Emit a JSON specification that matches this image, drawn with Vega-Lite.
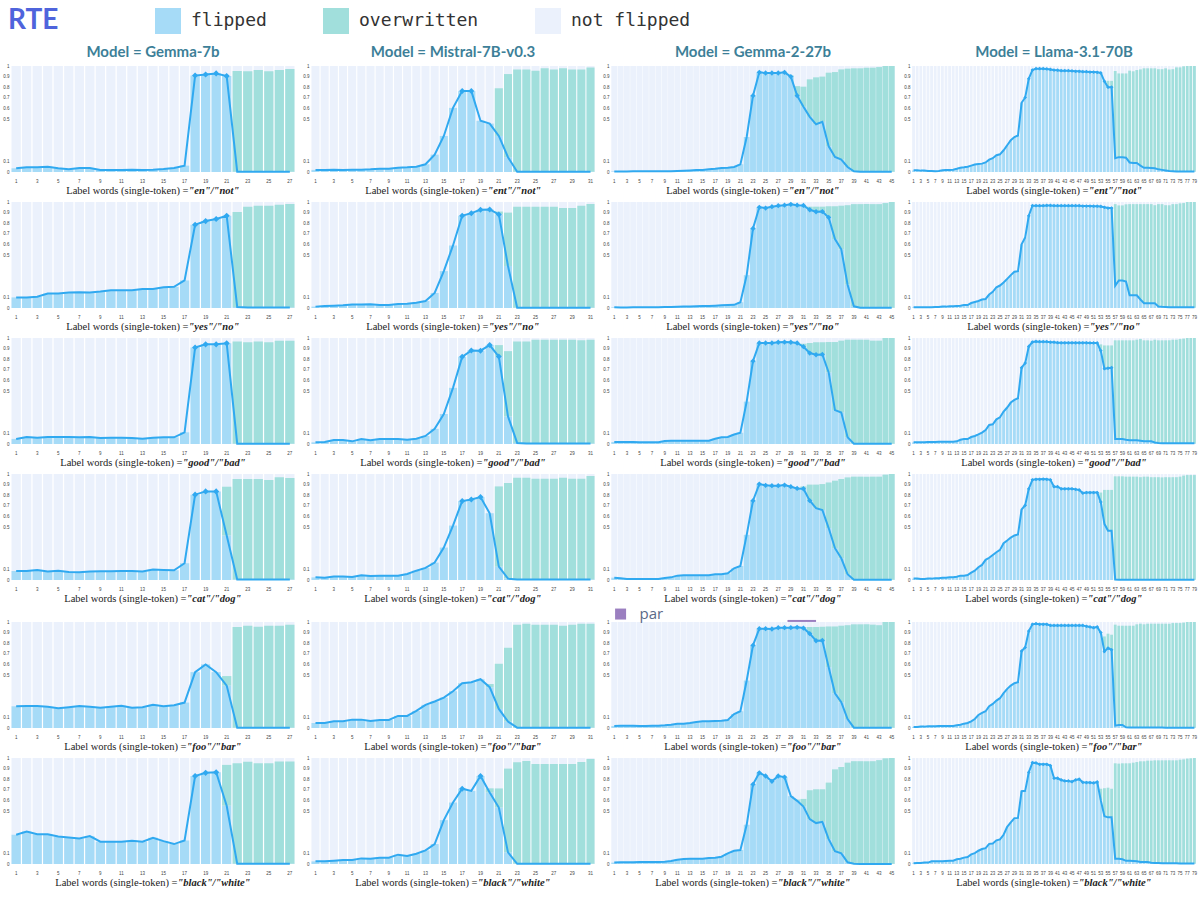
{
"$schema":"https://vega.github.io/schema/vega-lite/v6.json",
"padding":{"left":1,"top":8,"right":1,"bottom":0},
"background":"white",
"spacing":3,
"config":{
"view":{"stroke":null},
"scale":{"bandPaddingInner":0.12,"bandPaddingOuter":0.05},
"axisX":{"ticks":false,"domain":false,"grid":false,"labelAngle":0,"labelFontSize":4.5,"labelColor":"#444444","labelPadding":6,"labelOverlap":false,"titleFont":"Liberation Serif","titleFontSize":10.5,"titleColor":"#222222","titleY":21,"titleBaseline":"alphabetic","titleFontWeight":"normal"},
"axisY":{"ticks":false,"domain":false,"grid":false,"labelFontSize":4.5,"labelColor":"#444444","labelPadding":2,"minExtent":10,"maxExtent":10},
"title":{"font":"Lato","fontSize":15,"fontWeight":"bold","color":"#3d7f98","offset":3}
},
"datasets":{
"g7_en":[{"l":1,"f":0.035,"o":0},{"l":2,"f":0.045,"o":0},{"l":3,"f":0.045,"o":0},{"l":4,"f":0.05,"o":0},{"l":5,"f":0.035,"o":0},{"l":6,"f":0.025,"o":0},{"l":7,"f":0.038,"o":0},{"l":8,"f":0.038,"o":0},{"l":9,"f":0.02,"o":0},{"l":10,"f":0.02,"o":0},{"l":11,"f":0.02,"o":0},{"l":12,"f":0.022,"o":0},{"l":13,"f":0.02,"o":0},{"l":14,"f":0.022,"o":0},{"l":15,"f":0.028,"o":0},{"l":16,"f":0.038,"o":0},{"l":17,"f":0.06,"o":0},{"l":18,"f":0.91,"o":0},{"l":19,"f":0.92,"o":0},{"l":20,"f":0.93,"o":0},{"l":21,"f":0.905,"o":0},{"l":22,"f":0.003,"o":0.95},{"l":23,"f":0.003,"o":0.947},{"l":24,"f":0.003,"o":0.959},{"l":25,"f":0.003,"o":0.947},{"l":26,"f":0.003,"o":0.959},{"l":27,"f":0.003,"o":0.969}],
"g7_yes":[{"l":1,"f":0.1,"o":0},{"l":2,"f":0.1,"o":0},{"l":3,"f":0.107,"o":0},{"l":4,"f":0.136,"o":0},{"l":5,"f":0.136,"o":0},{"l":6,"f":0.146,"o":0},{"l":7,"f":0.149,"o":0},{"l":8,"f":0.146,"o":0},{"l":9,"f":0.155,"o":0},{"l":10,"f":0.168,"o":0},{"l":11,"f":0.168,"o":0},{"l":12,"f":0.168,"o":0},{"l":13,"f":0.18,"o":0},{"l":14,"f":0.18,"o":0},{"l":15,"f":0.196,"o":0},{"l":16,"f":0.2,"o":0},{"l":17,"f":0.26,"o":0},{"l":18,"f":0.785,"o":0},{"l":19,"f":0.82,"o":0},{"l":20,"f":0.84,"o":0},{"l":21,"f":0.87,"o":0},{"l":22,"f":0.01,"o":0.895},{"l":23,"f":0.005,"o":0.951},{"l":24,"f":0.005,"o":0.96},{"l":25,"f":0.005,"o":0.96},{"l":26,"f":0.005,"o":0.97},{"l":27,"f":0.005,"o":0.975}],
"g7_good":[{"l":1,"f":0.048,"o":0},{"l":2,"f":0.067,"o":0},{"l":3,"f":0.06,"o":0},{"l":4,"f":0.067,"o":0},{"l":5,"f":0.067,"o":0},{"l":6,"f":0.067,"o":0},{"l":7,"f":0.063,"o":0},{"l":8,"f":0.067,"o":0},{"l":9,"f":0.057,"o":0},{"l":10,"f":0.06,"o":0},{"l":11,"f":0.06,"o":0},{"l":12,"f":0.057,"o":0},{"l":13,"f":0.05,"o":0},{"l":14,"f":0.06,"o":0},{"l":15,"f":0.063,"o":0},{"l":16,"f":0.063,"o":0},{"l":17,"f":0.11,"o":0},{"l":18,"f":0.91,"o":0},{"l":19,"f":0.94,"o":0},{"l":20,"f":0.94,"o":0},{"l":21,"f":0.95,"o":0},{"l":22,"f":0.003,"o":0.965},{"l":23,"f":0.003,"o":0.957},{"l":24,"f":0.003,"o":0.965},{"l":25,"f":0.003,"o":0.957},{"l":26,"f":0.003,"o":0.972},{"l":27,"f":0.003,"o":0.972}],
"g7_cat":[{"l":1,"f":0.085,"o":0},{"l":2,"f":0.085,"o":0},{"l":3,"f":0.095,"o":0},{"l":4,"f":0.08,"o":0},{"l":5,"f":0.088,"o":0},{"l":6,"f":0.076,"o":0},{"l":7,"f":0.073,"o":0},{"l":8,"f":0.08,"o":0},{"l":9,"f":0.082,"o":0},{"l":10,"f":0.082,"o":0},{"l":11,"f":0.085,"o":0},{"l":12,"f":0.085,"o":0},{"l":13,"f":0.08,"o":0},{"l":14,"f":0.098,"o":0},{"l":15,"f":0.095,"o":0},{"l":16,"f":0.092,"o":0},{"l":17,"f":0.158,"o":0},{"l":18,"f":0.805,"o":0},{"l":19,"f":0.836,"o":0},{"l":20,"f":0.836,"o":0},{"l":21,"f":0.42,"o":0.46},{"l":22,"f":0.005,"o":0.948},{"l":23,"f":0.005,"o":0.948},{"l":24,"f":0.005,"o":0.948},{"l":25,"f":0.005,"o":0.938},{"l":26,"f":0.005,"o":0.965},{"l":27,"f":0.005,"o":0.957}],
"g7_foo":[{"l":1,"f":0.205,"o":0},{"l":2,"f":0.208,"o":0},{"l":3,"f":0.208,"o":0},{"l":4,"f":0.2,"o":0},{"l":5,"f":0.186,"o":0},{"l":6,"f":0.196,"o":0},{"l":7,"f":0.208,"o":0},{"l":8,"f":0.2,"o":0},{"l":9,"f":0.19,"o":0},{"l":10,"f":0.2,"o":0},{"l":11,"f":0.21,"o":0},{"l":12,"f":0.192,"o":0},{"l":13,"f":0.196,"o":0},{"l":14,"f":0.22,"o":0},{"l":15,"f":0.205,"o":0},{"l":16,"f":0.215,"o":0},{"l":17,"f":0.24,"o":0},{"l":18,"f":0.527,"o":0},{"l":19,"f":0.6,"o":0},{"l":20,"f":0.527,"o":0},{"l":21,"f":0.4,"o":0.09},{"l":22,"f":0.003,"o":0.95},{"l":23,"f":0.003,"o":0.962},{"l":24,"f":0.003,"o":0.952},{"l":25,"f":0.003,"o":0.962},{"l":26,"f":0.003,"o":0.962},{"l":27,"f":0.003,"o":0.972}],
"g7_black":[{"l":1,"f":0.276,"o":0},{"l":2,"f":0.307,"o":0},{"l":3,"f":0.28,"o":0},{"l":4,"f":0.28,"o":0},{"l":5,"f":0.26,"o":0},{"l":6,"f":0.25,"o":0},{"l":7,"f":0.24,"o":0},{"l":8,"f":0.263,"o":0},{"l":9,"f":0.21,"o":0},{"l":10,"f":0.21,"o":0},{"l":11,"f":0.21,"o":0},{"l":12,"f":0.22,"o":0},{"l":13,"f":0.21,"o":0},{"l":14,"f":0.248,"o":0},{"l":15,"f":0.216,"o":0},{"l":16,"f":0.188,"o":0},{"l":17,"f":0.222,"o":0},{"l":18,"f":0.83,"o":0},{"l":19,"f":0.86,"o":0},{"l":20,"f":0.865,"o":0},{"l":21,"f":0.55,"o":0.385},{"l":22,"f":0.003,"o":0.947},{"l":23,"f":0.003,"o":0.962},{"l":24,"f":0.003,"o":0.947},{"l":25,"f":0.003,"o":0.947},{"l":26,"f":0.003,"o":0.965},{"l":27,"f":0.003,"o":0.965}],
"mi_ent":[{"l":1,"f":0.02,"o":0},{"l":2,"f":0.02,"o":0},{"l":3,"f":0.022,"o":0},{"l":4,"f":0.02,"o":0},{"l":5,"f":0.022,"o":0},{"l":6,"f":0.022,"o":0},{"l":7,"f":0.025,"o":0},{"l":8,"f":0.03,"o":0},{"l":9,"f":0.03,"o":0},{"l":10,"f":0.04,"o":0},{"l":11,"f":0.044,"o":0},{"l":12,"f":0.05,"o":0},{"l":13,"f":0.073,"o":0},{"l":14,"f":0.164,"o":0},{"l":15,"f":0.34,"o":0},{"l":16,"f":0.605,"o":0},{"l":17,"f":0.763,"o":0},{"l":18,"f":0.763,"o":0},{"l":19,"f":0.483,"o":0},{"l":20,"f":0.457,"o":0},{"l":21,"f":0.34,"o":0.45},{"l":22,"f":0.14,"o":0.784},{"l":23,"f":0.003,"o":0.965},{"l":24,"f":0.003,"o":0.965},{"l":25,"f":0.003,"o":0.953},{"l":26,"f":0.003,"o":0.975},{"l":27,"f":0.003,"o":0.965},{"l":28,"f":0.003,"o":0.975},{"l":29,"f":0.003,"o":0.965},{"l":30,"f":0.003,"o":0.965},{"l":31,"f":0.003,"o":0.984}],
"mi_yes":[{"l":1,"f":0.013,"o":0},{"l":2,"f":0.02,"o":0},{"l":3,"f":0.022,"o":0},{"l":4,"f":0.025,"o":0},{"l":5,"f":0.032,"o":0},{"l":6,"f":0.032,"o":0},{"l":7,"f":0.035,"o":0},{"l":8,"f":0.028,"o":0},{"l":9,"f":0.028,"o":0},{"l":10,"f":0.038,"o":0},{"l":11,"f":0.041,"o":0},{"l":12,"f":0.05,"o":0},{"l":13,"f":0.066,"o":0},{"l":14,"f":0.142,"o":0},{"l":15,"f":0.348,"o":0},{"l":16,"f":0.59,"o":0},{"l":17,"f":0.87,"o":0},{"l":18,"f":0.895,"o":0},{"l":19,"f":0.927,"o":0},{"l":20,"f":0.93,"o":0},{"l":21,"f":0.883,"o":0.027},{"l":22,"f":0.396,"o":0.504},{"l":23,"f":0.003,"o":0.953},{"l":24,"f":0.003,"o":0.953},{"l":25,"f":0.003,"o":0.953},{"l":26,"f":0.003,"o":0.953},{"l":27,"f":0.003,"o":0.953},{"l":28,"f":0.003,"o":0.94},{"l":29,"f":0.003,"o":0.94},{"l":30,"f":0.003,"o":0.962},{"l":31,"f":0.003,"o":0.977}],
"mi_good":[{"l":1,"f":0.016,"o":0},{"l":2,"f":0.02,"o":0},{"l":3,"f":0.038,"o":0},{"l":4,"f":0.038,"o":0},{"l":5,"f":0.025,"o":0},{"l":6,"f":0.048,"o":0},{"l":7,"f":0.035,"o":0},{"l":8,"f":0.048,"o":0},{"l":9,"f":0.048,"o":0},{"l":10,"f":0.048,"o":0},{"l":11,"f":0.041,"o":0},{"l":12,"f":0.05,"o":0},{"l":13,"f":0.076,"o":0},{"l":14,"f":0.143,"o":0},{"l":15,"f":0.283,"o":0},{"l":16,"f":0.53,"o":0},{"l":17,"f":0.822,"o":0},{"l":18,"f":0.883,"o":0},{"l":19,"f":0.88,"o":0},{"l":20,"f":0.933,"o":0},{"l":21,"f":0.825,"o":0.108},{"l":22,"f":0.26,"o":0.616},{"l":23,"f":0.01,"o":0.958},{"l":24,"f":0.005,"o":0.963},{"l":25,"f":0.005,"o":0.979},{"l":26,"f":0.005,"o":0.979},{"l":27,"f":0.005,"o":0.979},{"l":28,"f":0.005,"o":0.979},{"l":29,"f":0.005,"o":0.979},{"l":30,"f":0.005,"o":0.973},{"l":31,"f":0.005,"o":0.979}],
"mi_cat":[{"l":1,"f":0.025,"o":0},{"l":2,"f":0.022,"o":0},{"l":3,"f":0.032,"o":0},{"l":4,"f":0.032,"o":0},{"l":5,"f":0.028,"o":0},{"l":6,"f":0.044,"o":0},{"l":7,"f":0.038,"o":0},{"l":8,"f":0.041,"o":0},{"l":9,"f":0.041,"o":0},{"l":10,"f":0.041,"o":0},{"l":11,"f":0.057,"o":0},{"l":12,"f":0.088,"o":0},{"l":13,"f":0.114,"o":0},{"l":14,"f":0.164,"o":0},{"l":15,"f":0.306,"o":0},{"l":16,"f":0.514,"o":0},{"l":17,"f":0.745,"o":0},{"l":18,"f":0.76,"o":0},{"l":19,"f":0.782,"o":0},{"l":20,"f":0.63,"o":0},{"l":21,"f":0.126,"o":0.757},{"l":22,"f":0.013,"o":0.902},{"l":23,"f":0.005,"o":0.96},{"l":24,"f":0.005,"o":0.96},{"l":25,"f":0.005,"o":0.951},{"l":26,"f":0.005,"o":0.951},{"l":27,"f":0.005,"o":0.951},{"l":28,"f":0.005,"o":0.96},{"l":29,"f":0.005,"o":0.951},{"l":30,"f":0.005,"o":0.951},{"l":31,"f":0.005,"o":0.975}],
"mi_foo":[{"l":1,"f":0.047,"o":0},{"l":2,"f":0.047,"o":0},{"l":3,"f":0.063,"o":0},{"l":4,"f":0.063,"o":0},{"l":5,"f":0.079,"o":0},{"l":6,"f":0.079,"o":0},{"l":7,"f":0.066,"o":0},{"l":8,"f":0.076,"o":0},{"l":9,"f":0.076,"o":0},{"l":10,"f":0.114,"o":0},{"l":11,"f":0.114,"o":0},{"l":12,"f":0.161,"o":0},{"l":13,"f":0.218,"o":0},{"l":14,"f":0.25,"o":0},{"l":15,"f":0.287,"o":0},{"l":16,"f":0.347,"o":0},{"l":17,"f":0.423,"o":0},{"l":18,"f":0.432,"o":0},{"l":19,"f":0.46,"o":0},{"l":20,"f":0.385,"o":0.03},{"l":21,"f":0.18,"o":0.426},{"l":22,"f":0.06,"o":0.697},{"l":23,"f":0.003,"o":0.972},{"l":24,"f":0.002,"o":0.982},{"l":25,"f":0.002,"o":0.973},{"l":26,"f":0.002,"o":0.973},{"l":27,"f":0.002,"o":0.973},{"l":28,"f":0.002,"o":0.963},{"l":29,"f":0.002,"o":0.973},{"l":30,"f":0.002,"o":0.982},{"l":31,"f":0.002,"o":0.982}],
"mi_black":[{"l":1,"f":0.025,"o":0},{"l":2,"f":0.025,"o":0},{"l":3,"f":0.031,"o":0},{"l":4,"f":0.038,"o":0},{"l":5,"f":0.038,"o":0},{"l":6,"f":0.053,"o":0},{"l":7,"f":0.05,"o":0},{"l":8,"f":0.06,"o":0},{"l":9,"f":0.06,"o":0},{"l":10,"f":0.088,"o":0},{"l":11,"f":0.075,"o":0},{"l":12,"f":0.097,"o":0},{"l":13,"f":0.128,"o":0},{"l":14,"f":0.188,"o":0},{"l":15,"f":0.414,"o":0},{"l":16,"f":0.58,"o":0},{"l":17,"f":0.71,"o":0},{"l":18,"f":0.69,"o":0},{"l":19,"f":0.83,"o":0},{"l":20,"f":0.674,"o":0.04},{"l":21,"f":0.533,"o":0.18},{"l":22,"f":0.11,"o":0.79},{"l":23,"f":0.002,"o":0.958},{"l":24,"f":0.002,"o":0.97},{"l":25,"f":0.002,"o":0.942},{"l":26,"f":0.002,"o":0.942},{"l":27,"f":0.002,"o":0.942},{"l":28,"f":0.002,"o":0.942},{"l":29,"f":0.002,"o":0.942},{"l":30,"f":0.002,"o":0.96},{"l":31,"f":0.002,"o":0.988}],
"g2_en":[{"l":1,"f":0.005,"o":0},{"l":2,"f":0.005,"o":0},{"l":3,"f":0.005,"o":0},{"l":4,"f":0.006,"o":0},{"l":5,"f":0.007,"o":0},{"l":6,"f":0.008,"o":0},{"l":7,"f":0.008,"o":0},{"l":8,"f":0.008,"o":0},{"l":9,"f":0.008,"o":0},{"l":10,"f":0.008,"o":0},{"l":11,"f":0.01,"o":0},{"l":12,"f":0.012,"o":0},{"l":13,"f":0.015,"o":0},{"l":14,"f":0.018,"o":0},{"l":15,"f":0.02,"o":0},{"l":16,"f":0.025,"o":0},{"l":17,"f":0.03,"o":0},{"l":18,"f":0.038,"o":0},{"l":19,"f":0.04,"o":0},{"l":20,"f":0.047,"o":0},{"l":21,"f":0.072,"o":0},{"l":22,"f":0.33,"o":0},{"l":23,"f":0.72,"o":0},{"l":24,"f":0.94,"o":0},{"l":25,"f":0.934,"o":0},{"l":26,"f":0.934,"o":0},{"l":27,"f":0.934,"o":0},{"l":28,"f":0.94,"o":0},{"l":29,"f":0.9,"o":0.01},{"l":30,"f":0.72,"o":0.09},{"l":31,"f":0.615,"o":0.19},{"l":32,"f":0.52,"o":0.354},{"l":33,"f":0.45,"o":0.443},{"l":34,"f":0.473,"o":0.427},{"l":35,"f":0.243,"o":0.694},{"l":36,"f":0.142,"o":0.801},{"l":37,"f":0.117,"o":0.851},{"l":38,"f":0.047,"o":0.928},{"l":39,"f":0.006,"o":0.972},{"l":40,"f":0.002,"o":0.976},{"l":41,"f":0.002,"o":0.982},{"l":42,"f":0.002,"o":0.982},{"l":43,"f":0.002,"o":0.988},{"l":44,"f":0.002,"o":0.998},{"l":45,"f":0.002,"o":0.998}],
"g2_yes":[{"l":1,"f":0.006,"o":0},{"l":2,"f":0.005,"o":0},{"l":3,"f":0.005,"o":0},{"l":4,"f":0.006,"o":0},{"l":5,"f":0.006,"o":0},{"l":6,"f":0.007,"o":0},{"l":7,"f":0.008,"o":0},{"l":8,"f":0.008,"o":0},{"l":9,"f":0.009,"o":0},{"l":10,"f":0.01,"o":0},{"l":11,"f":0.012,"o":0},{"l":12,"f":0.014,"o":0},{"l":13,"f":0.015,"o":0},{"l":14,"f":0.016,"o":0},{"l":15,"f":0.018,"o":0},{"l":16,"f":0.02,"o":0},{"l":17,"f":0.022,"o":0},{"l":18,"f":0.025,"o":0},{"l":19,"f":0.028,"o":0},{"l":20,"f":0.03,"o":0},{"l":21,"f":0.054,"o":0},{"l":22,"f":0.31,"o":0},{"l":23,"f":0.75,"o":0},{"l":24,"f":0.95,"o":0},{"l":25,"f":0.943,"o":0},{"l":26,"f":0.956,"o":0},{"l":27,"f":0.965,"o":0},{"l":28,"f":0.97,"o":0},{"l":29,"f":0.978,"o":0},{"l":30,"f":0.97,"o":0},{"l":31,"f":0.968,"o":0},{"l":32,"f":0.927,"o":0.029},{"l":33,"f":0.908,"o":0.048},{"l":34,"f":0.91,"o":0.046},{"l":35,"f":0.854,"o":0.106},{"l":36,"f":0.65,"o":0.31},{"l":37,"f":0.554,"o":0.411},{"l":38,"f":0.22,"o":0.75},{"l":39,"f":0.016,"o":0.964},{"l":40,"f":0.003,"o":0.977},{"l":41,"f":0.002,"o":0.978},{"l":42,"f":0.002,"o":0.978},{"l":43,"f":0.002,"o":0.978},{"l":44,"f":0.002,"o":0.988},{"l":45,"f":0.002,"o":0.998}],
"g2_good":[{"l":1,"f":0.019,"o":0},{"l":2,"f":0.019,"o":0},{"l":3,"f":0.018,"o":0},{"l":4,"f":0.018,"o":0},{"l":5,"f":0.017,"o":0},{"l":6,"f":0.016,"o":0},{"l":7,"f":0.016,"o":0},{"l":8,"f":0.016,"o":0},{"l":9,"f":0.028,"o":0},{"l":10,"f":0.03,"o":0},{"l":11,"f":0.03,"o":0},{"l":12,"f":0.03,"o":0},{"l":13,"f":0.03,"o":0},{"l":14,"f":0.03,"o":0},{"l":15,"f":0.03,"o":0},{"l":16,"f":0.03,"o":0},{"l":17,"f":0.05,"o":0},{"l":18,"f":0.063,"o":0},{"l":19,"f":0.066,"o":0},{"l":20,"f":0.09,"o":0},{"l":21,"f":0.107,"o":0},{"l":22,"f":0.4,"o":0},{"l":23,"f":0.782,"o":0},{"l":24,"f":0.953,"o":0},{"l":25,"f":0.953,"o":0},{"l":26,"f":0.953,"o":0},{"l":27,"f":0.96,"o":0},{"l":28,"f":0.962,"o":0},{"l":29,"f":0.96,"o":0},{"l":30,"f":0.953,"o":0},{"l":31,"f":0.918,"o":0.028},{"l":32,"f":0.858,"o":0.095},{"l":33,"f":0.842,"o":0.118},{"l":34,"f":0.845,"o":0.115},{"l":35,"f":0.675,"o":0.287},{"l":36,"f":0.32,"o":0.642},{"l":37,"f":0.297,"o":0.678},{"l":38,"f":0.063,"o":0.921},{"l":39,"f":0.003,"o":0.981},{"l":40,"f":0.002,"o":0.982},{"l":41,"f":0.002,"o":0.982},{"l":42,"f":0.002,"o":0.973},{"l":43,"f":0.002,"o":0.973},{"l":44,"f":0.002,"o":0.998},{"l":45,"f":0.002,"o":0.998}],
"g2_cat":[{"l":1,"f":0.022,"o":0},{"l":2,"f":0.016,"o":0},{"l":3,"f":0.01,"o":0},{"l":4,"f":0.01,"o":0},{"l":5,"f":0.01,"o":0},{"l":6,"f":0.01,"o":0},{"l":7,"f":0.01,"o":0},{"l":8,"f":0.01,"o":0},{"l":9,"f":0.019,"o":0},{"l":10,"f":0.025,"o":0},{"l":11,"f":0.041,"o":0},{"l":12,"f":0.044,"o":0},{"l":13,"f":0.044,"o":0},{"l":14,"f":0.044,"o":0},{"l":15,"f":0.044,"o":0},{"l":16,"f":0.044,"o":0},{"l":17,"f":0.054,"o":0},{"l":18,"f":0.054,"o":0},{"l":19,"f":0.063,"o":0},{"l":20,"f":0.11,"o":0},{"l":21,"f":0.132,"o":0},{"l":22,"f":0.426,"o":0},{"l":23,"f":0.748,"o":0},{"l":24,"f":0.905,"o":0},{"l":25,"f":0.893,"o":0},{"l":26,"f":0.89,"o":0},{"l":27,"f":0.89,"o":0},{"l":28,"f":0.896,"o":0},{"l":29,"f":0.88,"o":0},{"l":30,"f":0.864,"o":0.006},{"l":31,"f":0.861,"o":0.022},{"l":32,"f":0.748,"o":0.152},{"l":33,"f":0.678,"o":0.222},{"l":34,"f":0.66,"o":0.245},{"l":35,"f":0.49,"o":0.43},{"l":36,"f":0.3,"o":0.637},{"l":37,"f":0.205,"o":0.748},{"l":38,"f":0.054,"o":0.914},{"l":39,"f":0.003,"o":0.972},{"l":40,"f":0.002,"o":0.973},{"l":41,"f":0.002,"o":0.973},{"l":42,"f":0.002,"o":0.973},{"l":43,"f":0.002,"o":0.973},{"l":44,"f":0.002,"o":0.992},{"l":45,"f":0.002,"o":0.998}],
"g2_foo":[{"l":1,"f":0.019,"o":0},{"l":2,"f":0.022,"o":0},{"l":3,"f":0.022,"o":0},{"l":4,"f":0.022,"o":0},{"l":5,"f":0.02,"o":0},{"l":6,"f":0.02,"o":0},{"l":7,"f":0.021,"o":0},{"l":8,"f":0.022,"o":0},{"l":9,"f":0.025,"o":0},{"l":10,"f":0.03,"o":0},{"l":11,"f":0.041,"o":0},{"l":12,"f":0.041,"o":0},{"l":13,"f":0.047,"o":0},{"l":14,"f":0.057,"o":0},{"l":15,"f":0.063,"o":0},{"l":16,"f":0.063,"o":0},{"l":17,"f":0.066,"o":0},{"l":18,"f":0.069,"o":0},{"l":19,"f":0.076,"o":0},{"l":20,"f":0.132,"o":0},{"l":21,"f":0.158,"o":0},{"l":22,"f":0.448,"o":0},{"l":23,"f":0.78,"o":0},{"l":24,"f":0.937,"o":0},{"l":25,"f":0.937,"o":0},{"l":26,"f":0.934,"o":0},{"l":27,"f":0.946,"o":0},{"l":28,"f":0.946,"o":0},{"l":29,"f":0.946,"o":0},{"l":30,"f":0.95,"o":0},{"l":31,"f":0.943,"o":0.007},{"l":32,"f":0.89,"o":0.063},{"l":33,"f":0.823,"o":0.13},{"l":34,"f":0.826,"o":0.129},{"l":35,"f":0.574,"o":0.384},{"l":36,"f":0.328,"o":0.63},{"l":37,"f":0.243,"o":0.722},{"l":38,"f":0.085,"o":0.885},{"l":39,"f":0.003,"o":0.975},{"l":40,"f":0.002,"o":0.976},{"l":41,"f":0.002,"o":0.976},{"l":42,"f":0.002,"o":0.973},{"l":43,"f":0.002,"o":0.968},{"l":44,"f":0.002,"o":0.998},{"l":45,"f":0.002,"o":0.998}],
"g2_black":[{"l":1,"f":0.013,"o":0},{"l":2,"f":0.016,"o":0},{"l":3,"f":0.016,"o":0},{"l":4,"f":0.016,"o":0},{"l":5,"f":0.019,"o":0},{"l":6,"f":0.019,"o":0},{"l":7,"f":0.019,"o":0},{"l":8,"f":0.019,"o":0},{"l":9,"f":0.022,"o":0},{"l":10,"f":0.028,"o":0},{"l":11,"f":0.041,"o":0},{"l":12,"f":0.047,"o":0},{"l":13,"f":0.05,"o":0},{"l":14,"f":0.05,"o":0},{"l":15,"f":0.05,"o":0},{"l":16,"f":0.056,"o":0},{"l":17,"f":0.06,"o":0},{"l":18,"f":0.069,"o":0},{"l":19,"f":0.1,"o":0},{"l":20,"f":0.125,"o":0},{"l":21,"f":0.132,"o":0},{"l":22,"f":0.37,"o":0},{"l":23,"f":0.752,"o":0},{"l":24,"f":0.86,"o":0},{"l":25,"f":0.83,"o":0},{"l":26,"f":0.78,"o":0},{"l":27,"f":0.83,"o":0},{"l":28,"f":0.82,"o":0},{"l":29,"f":0.64,"o":0},{"l":30,"f":0.596,"o":0.012},{"l":31,"f":0.542,"o":0.072},{"l":32,"f":0.423,"o":0.273},{"l":33,"f":0.386,"o":0.319},{"l":34,"f":0.398,"o":0.307},{"l":35,"f":0.235,"o":0.533},{"l":36,"f":0.12,"o":0.773},{"l":37,"f":0.1,"o":0.815},{"l":38,"f":0.016,"o":0.94},{"l":39,"f":0.002,"o":0.968},{"l":40,"f":0.001,"o":0.969},{"l":41,"f":0.001,"o":0.969},{"l":42,"f":0.001,"o":0.969},{"l":43,"f":0.001,"o":0.979},{"l":44,"f":0.001,"o":0.996},{"l":45,"f":0.001,"o":0.999}],
"ll_ent":[{"l":1,"f":0.016,"o":0},{"l":2,"f":0.016,"o":0},{"l":3,"f":0.013,"o":0},{"l":4,"f":0.013,"o":0},{"l":5,"f":0.01,"o":0},{"l":6,"f":0.01,"o":0},{"l":7,"f":0.006,"o":0},{"l":8,"f":0.01,"o":0},{"l":9,"f":0.016,"o":0},{"l":10,"f":0.019,"o":0},{"l":11,"f":0.019,"o":0},{"l":12,"f":0.022,"o":0},{"l":13,"f":0.03,"o":0},{"l":14,"f":0.04,"o":0},{"l":15,"f":0.044,"o":0},{"l":16,"f":0.05,"o":0},{"l":17,"f":0.06,"o":0},{"l":18,"f":0.07,"o":0},{"l":19,"f":0.076,"o":0},{"l":20,"f":0.079,"o":0},{"l":21,"f":0.09,"o":0},{"l":22,"f":0.117,"o":0},{"l":23,"f":0.13,"o":0},{"l":24,"f":0.158,"o":0},{"l":25,"f":0.167,"o":0},{"l":26,"f":0.205,"o":0},{"l":27,"f":0.252,"o":0},{"l":28,"f":0.3,"o":0},{"l":29,"f":0.33,"o":0},{"l":30,"f":0.344,"o":0},{"l":31,"f":0.653,"o":0},{"l":32,"f":0.703,"o":0},{"l":33,"f":0.88,"o":0},{"l":34,"f":0.962,"o":0},{"l":35,"f":0.975,"o":0},{"l":36,"f":0.975,"o":0},{"l":37,"f":0.975,"o":0},{"l":38,"f":0.972,"o":0},{"l":39,"f":0.968,"o":0},{"l":40,"f":0.962,"o":0},{"l":41,"f":0.96,"o":0},{"l":42,"f":0.956,"o":0},{"l":43,"f":0.956,"o":0},{"l":44,"f":0.956,"o":0},{"l":45,"f":0.953,"o":0},{"l":46,"f":0.95,"o":0},{"l":47,"f":0.95,"o":0},{"l":48,"f":0.946,"o":0},{"l":49,"f":0.946,"o":0},{"l":50,"f":0.943,"o":0},{"l":51,"f":0.943,"o":0},{"l":52,"f":0.94,"o":0},{"l":53,"f":0.935,"o":0},{"l":54,"f":0.855,"o":0},{"l":55,"f":0.8,"o":0.06},{"l":56,"f":0.8,"o":0.06},{"l":57,"f":0.13,"o":0.823},{"l":58,"f":0.14,"o":0.79},{"l":59,"f":0.14,"o":0.79},{"l":60,"f":0.135,"o":0.795},{"l":61,"f":0.09,"o":0.866},{"l":62,"f":0.085,"o":0.865},{"l":63,"f":0.085,"o":0.877},{"l":64,"f":0.06,"o":0.908},{"l":65,"f":0.04,"o":0.938},{"l":66,"f":0.04,"o":0.938},{"l":67,"f":0.038,"o":0.94},{"l":68,"f":0.035,"o":0.943},{"l":69,"f":0.025,"o":0.945},{"l":70,"f":0.02,"o":0.95},{"l":71,"f":0.015,"o":0.963},{"l":72,"f":0.01,"o":0.958},{"l":73,"f":0.008,"o":0.962},{"l":74,"f":0.005,"o":0.982},{"l":75,"f":0.005,"o":0.982},{"l":76,"f":0.005,"o":0.992},{"l":77,"f":0.005,"o":0.995},{"l":78,"f":0.005,"o":0.995},{"l":79,"f":0.005,"o":0.995}],
"ll_yes":[{"l":1,"f":0.006,"o":0},{"l":2,"f":0.006,"o":0},{"l":3,"f":0.006,"o":0},{"l":4,"f":0.008,"o":0},{"l":5,"f":0.008,"o":0},{"l":6,"f":0.008,"o":0},{"l":7,"f":0.01,"o":0},{"l":8,"f":0.01,"o":0},{"l":9,"f":0.013,"o":0},{"l":10,"f":0.013,"o":0},{"l":11,"f":0.016,"o":0},{"l":12,"f":0.016,"o":0},{"l":13,"f":0.02,"o":0},{"l":14,"f":0.022,"o":0},{"l":15,"f":0.028,"o":0},{"l":16,"f":0.028,"o":0},{"l":17,"f":0.047,"o":0},{"l":18,"f":0.057,"o":0},{"l":19,"f":0.066,"o":0},{"l":20,"f":0.08,"o":0},{"l":21,"f":0.085,"o":0},{"l":22,"f":0.127,"o":0},{"l":23,"f":0.152,"o":0},{"l":24,"f":0.196,"o":0},{"l":25,"f":0.212,"o":0},{"l":26,"f":0.24,"o":0},{"l":27,"f":0.275,"o":0},{"l":28,"f":0.31,"o":0},{"l":29,"f":0.342,"o":0},{"l":30,"f":0.348,"o":0},{"l":31,"f":0.6,"o":0},{"l":32,"f":0.665,"o":0},{"l":33,"f":0.87,"o":0},{"l":34,"f":0.965,"o":0},{"l":35,"f":0.965,"o":0},{"l":36,"f":0.965,"o":0},{"l":37,"f":0.965,"o":0},{"l":38,"f":0.968,"o":0},{"l":39,"f":0.968,"o":0},{"l":40,"f":0.965,"o":0},{"l":41,"f":0.965,"o":0},{"l":42,"f":0.965,"o":0},{"l":43,"f":0.965,"o":0},{"l":44,"f":0.965,"o":0},{"l":45,"f":0.965,"o":0},{"l":46,"f":0.965,"o":0},{"l":47,"f":0.965,"o":0},{"l":48,"f":0.962,"o":0},{"l":49,"f":0.962,"o":0},{"l":50,"f":0.962,"o":0},{"l":51,"f":0.96,"o":0},{"l":52,"f":0.96,"o":0},{"l":53,"f":0.958,"o":0},{"l":54,"f":0.95,"o":0},{"l":55,"f":0.943,"o":0},{"l":56,"f":0.943,"o":0},{"l":57,"f":0.21,"o":0.77},{"l":58,"f":0.26,"o":0.708},{"l":59,"f":0.26,"o":0.708},{"l":60,"f":0.25,"o":0.728},{"l":61,"f":0.12,"o":0.86},{"l":62,"f":0.12,"o":0.86},{"l":63,"f":0.12,"o":0.86},{"l":64,"f":0.08,"o":0.9},{"l":65,"f":0.045,"o":0.935},{"l":66,"f":0.045,"o":0.935},{"l":67,"f":0.045,"o":0.935},{"l":68,"f":0.044,"o":0.926},{"l":69,"f":0.015,"o":0.965},{"l":70,"f":0.012,"o":0.968},{"l":71,"f":0.01,"o":0.96},{"l":72,"f":0.008,"o":0.962},{"l":73,"f":0.006,"o":0.974},{"l":74,"f":0.006,"o":0.974},{"l":75,"f":0.006,"o":0.981},{"l":76,"f":0.006,"o":0.984},{"l":77,"f":0.006,"o":0.994},{"l":78,"f":0.006,"o":0.994},{"l":79,"f":0.006,"o":0.994}],
"ll_good":[{"l":1,"f":0.016,"o":0},{"l":2,"f":0.016,"o":0},{"l":3,"f":0.016,"o":0},{"l":4,"f":0.016,"o":0},{"l":5,"f":0.019,"o":0},{"l":6,"f":0.019,"o":0},{"l":7,"f":0.019,"o":0},{"l":8,"f":0.022,"o":0},{"l":9,"f":0.022,"o":0},{"l":10,"f":0.022,"o":0},{"l":11,"f":0.022,"o":0},{"l":12,"f":0.022,"o":0},{"l":13,"f":0.025,"o":0},{"l":14,"f":0.04,"o":0},{"l":15,"f":0.047,"o":0},{"l":16,"f":0.047,"o":0},{"l":17,"f":0.066,"o":0},{"l":18,"f":0.076,"o":0},{"l":19,"f":0.091,"o":0},{"l":20,"f":0.107,"o":0},{"l":21,"f":0.132,"o":0},{"l":22,"f":0.18,"o":0},{"l":23,"f":0.186,"o":0},{"l":24,"f":0.233,"o":0},{"l":25,"f":0.252,"o":0},{"l":26,"f":0.306,"o":0},{"l":27,"f":0.344,"o":0},{"l":28,"f":0.391,"o":0},{"l":29,"f":0.416,"o":0},{"l":30,"f":0.432,"o":0},{"l":31,"f":0.72,"o":0},{"l":32,"f":0.763,"o":0},{"l":33,"f":0.92,"o":0},{"l":34,"f":0.962,"o":0},{"l":35,"f":0.968,"o":0},{"l":36,"f":0.965,"o":0},{"l":37,"f":0.965,"o":0},{"l":38,"f":0.965,"o":0},{"l":39,"f":0.96,"o":0},{"l":40,"f":0.96,"o":0},{"l":41,"f":0.956,"o":0},{"l":42,"f":0.955,"o":0},{"l":43,"f":0.955,"o":0},{"l":44,"f":0.955,"o":0},{"l":45,"f":0.955,"o":0},{"l":46,"f":0.955,"o":0},{"l":47,"f":0.955,"o":0},{"l":48,"f":0.955,"o":0},{"l":49,"f":0.955,"o":0},{"l":50,"f":0.953,"o":0},{"l":51,"f":0.953,"o":0},{"l":52,"f":0.953,"o":0},{"l":53,"f":0.88,"o":0.06},{"l":54,"f":0.71,"o":0.22},{"l":55,"f":0.715,"o":0.215},{"l":56,"f":0.72,"o":0.21},{"l":57,"f":0.047,"o":0.931},{"l":58,"f":0.047,"o":0.931},{"l":59,"f":0.047,"o":0.931},{"l":60,"f":0.04,"o":0.938},{"l":61,"f":0.035,"o":0.943},{"l":62,"f":0.035,"o":0.943},{"l":63,"f":0.035,"o":0.949},{"l":64,"f":0.03,"o":0.96},{"l":65,"f":0.025,"o":0.953},{"l":66,"f":0.025,"o":0.953},{"l":67,"f":0.025,"o":0.95},{"l":68,"f":0.015,"o":0.969},{"l":69,"f":0.01,"o":0.968},{"l":70,"f":0.008,"o":0.97},{"l":71,"f":0.006,"o":0.972},{"l":72,"f":0.006,"o":0.972},{"l":73,"f":0.006,"o":0.978},{"l":74,"f":0.006,"o":0.978},{"l":75,"f":0.006,"o":0.984},{"l":76,"f":0.006,"o":0.988},{"l":77,"f":0.006,"o":0.994},{"l":78,"f":0.006,"o":0.994},{"l":79,"f":0.006,"o":0.994}],
"ll_cat":[{"l":1,"f":0.013,"o":0},{"l":2,"f":0.013,"o":0},{"l":3,"f":0.01,"o":0},{"l":4,"f":0.01,"o":0},{"l":5,"f":0.013,"o":0},{"l":6,"f":0.013,"o":0},{"l":7,"f":0.016,"o":0},{"l":8,"f":0.016,"o":0},{"l":9,"f":0.022,"o":0},{"l":10,"f":0.022,"o":0},{"l":11,"f":0.025,"o":0},{"l":12,"f":0.025,"o":0},{"l":13,"f":0.03,"o":0},{"l":14,"f":0.041,"o":0},{"l":15,"f":0.041,"o":0},{"l":16,"f":0.047,"o":0},{"l":17,"f":0.07,"o":0},{"l":18,"f":0.088,"o":0},{"l":19,"f":0.12,"o":0},{"l":20,"f":0.142,"o":0},{"l":21,"f":0.19,"o":0},{"l":22,"f":0.21,"o":0},{"l":23,"f":0.236,"o":0},{"l":24,"f":0.262,"o":0},{"l":25,"f":0.284,"o":0},{"l":26,"f":0.347,"o":0},{"l":27,"f":0.372,"o":0},{"l":28,"f":0.4,"o":0},{"l":29,"f":0.42,"o":0},{"l":30,"f":0.43,"o":0},{"l":31,"f":0.665,"o":0},{"l":32,"f":0.705,"o":0},{"l":33,"f":0.86,"o":0},{"l":34,"f":0.945,"o":0},{"l":35,"f":0.95,"o":0},{"l":36,"f":0.95,"o":0},{"l":37,"f":0.952,"o":0},{"l":38,"f":0.95,"o":0},{"l":39,"f":0.945,"o":0},{"l":40,"f":0.88,"o":0},{"l":41,"f":0.88,"o":0},{"l":42,"f":0.86,"o":0},{"l":43,"f":0.86,"o":0},{"l":44,"f":0.86,"o":0},{"l":45,"f":0.86,"o":0},{"l":46,"f":0.855,"o":0},{"l":47,"f":0.85,"o":0},{"l":48,"f":0.82,"o":0},{"l":49,"f":0.825,"o":0},{"l":50,"f":0.825,"o":0},{"l":51,"f":0.825,"o":0},{"l":52,"f":0.825,"o":0},{"l":53,"f":0.735,"o":0.09},{"l":54,"f":0.53,"o":0.32},{"l":55,"f":0.465,"o":0.385},{"l":56,"f":0.465,"o":0.385},{"l":57,"f":0.005,"o":0.973},{"l":58,"f":0.003,"o":0.975},{"l":59,"f":0.003,"o":0.975},{"l":60,"f":0.003,"o":0.972},{"l":61,"f":0.003,"o":0.972},{"l":62,"f":0.003,"o":0.972},{"l":63,"f":0.003,"o":0.972},{"l":64,"f":0.003,"o":0.967},{"l":65,"f":0.003,"o":0.972},{"l":66,"f":0.003,"o":0.972},{"l":67,"f":0.003,"o":0.967},{"l":68,"f":0.003,"o":0.967},{"l":69,"f":0.003,"o":0.967},{"l":70,"f":0.003,"o":0.965},{"l":71,"f":0.003,"o":0.967},{"l":72,"f":0.003,"o":0.967},{"l":73,"f":0.003,"o":0.967},{"l":74,"f":0.003,"o":0.967},{"l":75,"f":0.003,"o":0.972},{"l":76,"f":0.003,"o":0.982},{"l":77,"f":0.003,"o":0.987},{"l":78,"f":0.003,"o":0.987},{"l":79,"f":0.003,"o":0.987}],
"ll_foo":[{"l":1,"f":0.01,"o":0},{"l":2,"f":0.01,"o":0},{"l":3,"f":0.013,"o":0},{"l":4,"f":0.013,"o":0},{"l":5,"f":0.016,"o":0},{"l":6,"f":0.016,"o":0},{"l":7,"f":0.016,"o":0},{"l":8,"f":0.019,"o":0},{"l":9,"f":0.019,"o":0},{"l":10,"f":0.019,"o":0},{"l":11,"f":0.019,"o":0},{"l":12,"f":0.019,"o":0},{"l":13,"f":0.025,"o":0},{"l":14,"f":0.03,"o":0},{"l":15,"f":0.041,"o":0},{"l":16,"f":0.047,"o":0},{"l":17,"f":0.063,"o":0},{"l":18,"f":0.085,"o":0},{"l":19,"f":0.123,"o":0},{"l":20,"f":0.142,"o":0},{"l":21,"f":0.158,"o":0},{"l":22,"f":0.205,"o":0},{"l":23,"f":0.227,"o":0},{"l":24,"f":0.259,"o":0},{"l":25,"f":0.281,"o":0},{"l":26,"f":0.328,"o":0},{"l":27,"f":0.369,"o":0},{"l":28,"f":0.4,"o":0},{"l":29,"f":0.423,"o":0},{"l":30,"f":0.432,"o":0},{"l":31,"f":0.726,"o":0},{"l":32,"f":0.76,"o":0},{"l":33,"f":0.915,"o":0},{"l":34,"f":0.978,"o":0},{"l":35,"f":0.984,"o":0},{"l":36,"f":0.978,"o":0},{"l":37,"f":0.978,"o":0},{"l":38,"f":0.978,"o":0},{"l":39,"f":0.968,"o":0},{"l":40,"f":0.968,"o":0},{"l":41,"f":0.968,"o":0},{"l":42,"f":0.968,"o":0},{"l":43,"f":0.968,"o":0},{"l":44,"f":0.968,"o":0},{"l":45,"f":0.968,"o":0},{"l":46,"f":0.968,"o":0},{"l":47,"f":0.968,"o":0},{"l":48,"f":0.968,"o":0},{"l":49,"f":0.959,"o":0},{"l":50,"f":0.953,"o":0},{"l":51,"f":0.946,"o":0},{"l":52,"f":0.953,"o":0},{"l":53,"f":0.9,"o":0},{"l":54,"f":0.722,"o":0.142},{"l":55,"f":0.754,"o":0.136},{"l":56,"f":0.738,"o":0.142},{"l":57,"f":0.022,"o":0.953},{"l":58,"f":0.028,"o":0.937},{"l":59,"f":0.028,"o":0.937},{"l":60,"f":0.006,"o":0.959},{"l":61,"f":0.005,"o":0.96},{"l":62,"f":0.005,"o":0.96},{"l":63,"f":0.005,"o":0.973},{"l":64,"f":0.005,"o":0.979},{"l":65,"f":0.004,"o":0.974},{"l":66,"f":0.004,"o":0.98},{"l":67,"f":0.004,"o":0.98},{"l":68,"f":0.004,"o":0.98},{"l":69,"f":0.004,"o":0.98},{"l":70,"f":0.004,"o":0.98},{"l":71,"f":0.003,"o":0.981},{"l":72,"f":0.003,"o":0.981},{"l":73,"f":0.003,"o":0.987},{"l":74,"f":0.003,"o":0.987},{"l":75,"f":0.003,"o":0.987},{"l":76,"f":0.003,"o":0.991},{"l":77,"f":0.003,"o":0.997},{"l":78,"f":0.003,"o":0.997},{"l":79,"f":0.003,"o":0.997}],
"ll_black":[{"l":1,"f":0.006,"o":0},{"l":2,"f":0.01,"o":0},{"l":3,"f":0.01,"o":0},{"l":4,"f":0.013,"o":0},{"l":5,"f":0.013,"o":0},{"l":6,"f":0.025,"o":0},{"l":7,"f":0.025,"o":0},{"l":8,"f":0.025,"o":0},{"l":9,"f":0.025,"o":0},{"l":10,"f":0.028,"o":0},{"l":11,"f":0.031,"o":0},{"l":12,"f":0.031,"o":0},{"l":13,"f":0.044,"o":0},{"l":14,"f":0.05,"o":0},{"l":15,"f":0.06,"o":0},{"l":16,"f":0.066,"o":0},{"l":17,"f":0.091,"o":0},{"l":18,"f":0.103,"o":0},{"l":19,"f":0.125,"o":0},{"l":20,"f":0.141,"o":0},{"l":21,"f":0.15,"o":0},{"l":22,"f":0.19,"o":0},{"l":23,"f":0.194,"o":0},{"l":24,"f":0.223,"o":0},{"l":25,"f":0.232,"o":0},{"l":26,"f":0.276,"o":0},{"l":27,"f":0.351,"o":0},{"l":28,"f":0.392,"o":0},{"l":29,"f":0.433,"o":0},{"l":30,"f":0.435,"o":0},{"l":31,"f":0.687,"o":0},{"l":32,"f":0.69,"o":0},{"l":33,"f":0.865,"o":0},{"l":34,"f":0.956,"o":0},{"l":35,"f":0.953,"o":0},{"l":36,"f":0.94,"o":0},{"l":37,"f":0.94,"o":0},{"l":38,"f":0.94,"o":0},{"l":39,"f":0.928,"o":0},{"l":40,"f":0.809,"o":0},{"l":41,"f":0.809,"o":0},{"l":42,"f":0.793,"o":0},{"l":43,"f":0.784,"o":0},{"l":44,"f":0.784,"o":0},{"l":45,"f":0.777,"o":0},{"l":46,"f":0.793,"o":0},{"l":47,"f":0.8,"o":0},{"l":48,"f":0.771,"o":0},{"l":49,"f":0.768,"o":0},{"l":50,"f":0.768,"o":0},{"l":51,"f":0.765,"o":0},{"l":52,"f":0.774,"o":0},{"l":53,"f":0.6,"o":0.11},{"l":54,"f":0.45,"o":0.265},{"l":55,"f":0.44,"o":0.28},{"l":56,"f":0.44,"o":0.27},{"l":57,"f":0.05,"o":0.9},{"l":58,"f":0.05,"o":0.897},{"l":59,"f":0.045,"o":0.905},{"l":60,"f":0.03,"o":0.92},{"l":61,"f":0.03,"o":0.92},{"l":62,"f":0.028,"o":0.928},{"l":63,"f":0.025,"o":0.937},{"l":64,"f":0.02,"o":0.949},{"l":65,"f":0.02,"o":0.949},{"l":66,"f":0.018,"o":0.957},{"l":67,"f":0.012,"o":0.963},{"l":68,"f":0.01,"o":0.968},{"l":69,"f":0.01,"o":0.968},{"l":70,"f":0.008,"o":0.97},{"l":71,"f":0.008,"o":0.97},{"l":72,"f":0.007,"o":0.971},{"l":73,"f":0.006,"o":0.972},{"l":74,"f":0.006,"o":0.972},{"l":75,"f":0.005,"o":0.979},{"l":76,"f":0.005,"o":0.982},{"l":77,"f":0.005,"o":0.989},{"l":78,"f":0.005,"o":0.992},{"l":79,"f":0.005,"o":0.995}]
},
"vconcat":[
{"spacing":6,"hconcat":[
{"width":284,"height":106,"data":{"name":"g7_en"},"title":"Model = Gemma-7b","layer":[
{"mark":"bar","encoding":{"x":{"field":"l","type":"ordinal","axis":{"title":"Label words (single-token) = ","titleX":177,"titleAlign":"right","labelExpr":"datum.value%2==1?datum.label:''"}},"y":{"datum":1,"type":"quantitative","scale":{"domain":[0,1]},"axis":{"title":null,"values":[0,0.1,0.5,0.6,0.7,0.8,0.9,1],"format":"~g"}},"color":{"datum":"n","type":"nominal","scale":{"domain":["f","o","n"],"range":["#a6dbf7","#a1dfdc","#ebf1fc"]},"legend":{"orient":"none","legendX":-3,"legendY":-58,"direction":"horizontal","title":"RTE","titleOrient":"left","titleFont":"Lato","titleFontSize":28,"titleFontWeight":"bold","titleColor":"#4f64dc","titlePadding":96,"symbolType":"square","symbolSize":676,"symbolStrokeWidth":0,"symbolOpacity":1,"labelFont":"DejaVu Sans Mono","labelFontSize":18,"labelColor":"#333333","labelOffset":10,"columnPadding":56,"labelExpr":"datum.label=='f'?'flipped':datum.label=='o'?'overwritten':'not flipped'"}}}},
{"transform":[{"fold":["f","o"]}],"mark":"bar","encoding":{"x":{"field":"l","type":"ordinal","axis":null},"y":{"field":"value","type":"quantitative","axis":{"title":null,"values":[0,0.1,0.5,0.6,0.7,0.8,0.9,1],"format":"~g"}},"color":{"field":"key","type":"nominal"},"order":{"field":"key"}}},
{"mark":{"type":"line","color":"#30a9f0","strokeWidth":2},"encoding":{"x":{"field":"l","type":"ordinal","axis":{"orient":"bottom","title":"\"en\"/\"not\"","titleX":177,"titleAlign":"left","titleFontWeight":"bold","titleFontStyle":"italic","labels":false}},"y":{"field":"f","type":"quantitative","axis":{"title":null,"values":[0,0.1,0.5,0.6,0.7,0.8,0.9,1],"format":"~g"}}}},
{"transform":[{"filter":"datum.f>=0.7"}],"mark":{"type":"point","shape":"diamond","filled":true,"size":38,"color":"#30a9f0","opacity":1},"encoding":{"x":{"field":"l","type":"ordinal","axis":null},"y":{"field":"f","type":"quantitative","axis":{"title":null,"values":[0,0.1,0.5,0.6,0.7,0.8,0.9,1],"format":"~g"}}}}
],"resolve":{"axis":{"x":"independent"}}},
{"width":284,"height":106,"data":{"name":"mi_ent"},"title":"Model = Mistral-7B-v0.3","layer":[
{"mark":"bar","encoding":{"x":{"field":"l","type":"ordinal","axis":{"title":"Label words (single-token) = ","titleX":176,"titleAlign":"right","labelExpr":"datum.value%2==1?datum.label:''"}},"y":{"datum":1,"type":"quantitative","scale":{"domain":[0,1]},"axis":{"title":null,"values":[0,0.1,0.5,0.6,0.7,0.8,0.9,1],"format":"~g"}},"color":{"datum":"n","type":"nominal"}}},
{"transform":[{"fold":["f","o"]}],"mark":"bar","encoding":{"x":{"field":"l","type":"ordinal","axis":null},"y":{"field":"value","type":"quantitative","axis":{"title":null,"values":[0,0.1,0.5,0.6,0.7,0.8,0.9,1],"format":"~g"}},"color":{"field":"key","type":"nominal"},"order":{"field":"key"}}},
{"mark":{"type":"line","color":"#30a9f0","strokeWidth":2},"encoding":{"x":{"field":"l","type":"ordinal","axis":{"orient":"bottom","title":"\"ent\"/\"not\"","titleX":176,"titleAlign":"left","titleFontWeight":"bold","titleFontStyle":"italic","labels":false}},"y":{"field":"f","type":"quantitative","axis":{"title":null,"values":[0,0.1,0.5,0.6,0.7,0.8,0.9,1],"format":"~g"}}}},
{"transform":[{"filter":"datum.f>=0.7"}],"mark":{"type":"point","shape":"diamond","filled":true,"size":36,"color":"#30a9f0","opacity":1},"encoding":{"x":{"field":"l","type":"ordinal","axis":null},"y":{"field":"f","type":"quantitative","axis":{"title":null,"values":[0,0.1,0.5,0.6,0.7,0.8,0.9,1],"format":"~g"}}}}
],"resolve":{"axis":{"x":"independent"}}},
{"width":284,"height":106,"data":{"name":"g2_en"},"title":"Model = Gemma-2-27b","layer":[
{"mark":"bar","encoding":{"x":{"field":"l","type":"ordinal","scale":{"paddingInner":0.06},"axis":{"title":"Label words (single-token) = ","titleX":177,"titleAlign":"right","labelExpr":"datum.value%2==1?datum.label:''"}},"y":{"datum":1,"type":"quantitative","scale":{"domain":[0,1]},"axis":{"title":null,"values":[0,0.1,0.5,0.6,0.7,0.8,0.9,1],"format":"~g"}},"color":{"datum":"n","type":"nominal"}}},
{"transform":[{"fold":["f","o"]}],"mark":"bar","encoding":{"x":{"field":"l","type":"ordinal","axis":null},"y":{"field":"value","type":"quantitative","axis":{"title":null,"values":[0,0.1,0.5,0.6,0.7,0.8,0.9,1],"format":"~g"}},"color":{"field":"key","type":"nominal"},"order":{"field":"key"}}},
{"mark":{"type":"line","color":"#30a9f0","strokeWidth":2},"encoding":{"x":{"field":"l","type":"ordinal","axis":{"orient":"bottom","title":"\"en\"/\"not\"","titleX":177,"titleAlign":"left","titleFontWeight":"bold","titleFontStyle":"italic","labels":false}},"y":{"field":"f","type":"quantitative","axis":{"title":null,"values":[0,0.1,0.5,0.6,0.7,0.8,0.9,1],"format":"~g"}}}},
{"transform":[{"filter":"datum.f>=0.7"}],"mark":{"type":"point","shape":"diamond","filled":true,"size":28,"color":"#30a9f0","opacity":1},"encoding":{"x":{"field":"l","type":"ordinal","axis":null},"y":{"field":"f","type":"quantitative","axis":{"title":null,"values":[0,0.1,0.5,0.6,0.7,0.8,0.9,1],"format":"~g"}}}}
],"resolve":{"axis":{"x":"independent"}}},
{"width":284,"height":106,"data":{"name":"ll_ent"},"title":"Model = Llama-3.1-70B","layer":[
{"mark":"bar","encoding":{"x":{"field":"l","type":"ordinal","scale":{"paddingInner":0.22},"axis":{"title":"Label words (single-token) = ","titleX":176,"titleAlign":"right","labelExpr":"datum.value%2==1?datum.label:''"}},"y":{"datum":1,"type":"quantitative","scale":{"domain":[0,1]},"axis":{"title":null,"values":[0,0.1,0.5,0.6,0.7,0.8,0.9,1],"format":"~g"}},"color":{"datum":"n","type":"nominal"}}},
{"transform":[{"fold":["f","o"]}],"mark":"bar","encoding":{"x":{"field":"l","type":"ordinal","axis":null},"y":{"field":"value","type":"quantitative","axis":{"title":null,"values":[0,0.1,0.5,0.6,0.7,0.8,0.9,1],"format":"~g"}},"color":{"field":"key","type":"nominal"},"order":{"field":"key"}}},
{"mark":{"type":"line","color":"#30a9f0","strokeWidth":2},"encoding":{"x":{"field":"l","type":"ordinal","axis":{"orient":"bottom","title":"\"ent\"/\"not\"","titleX":176,"titleAlign":"left","titleFontWeight":"bold","titleFontStyle":"italic","labels":false}},"y":{"field":"f","type":"quantitative","axis":{"title":null,"values":[0,0.1,0.5,0.6,0.7,0.8,0.9,1],"format":"~g"}}}},
{"transform":[{"filter":"datum.f>=0.7"}],"mark":{"type":"point","shape":"diamond","filled":true,"size":14,"color":"#30a9f0","opacity":1},"encoding":{"x":{"field":"l","type":"ordinal","axis":null},"y":{"field":"f","type":"quantitative","axis":{"title":null,"values":[0,0.1,0.5,0.6,0.7,0.8,0.9,1],"format":"~g"}}}}
],"resolve":{"axis":{"x":"independent"}}}
]},
{"spacing":6,"hconcat":[
{"width":284,"height":106,"data":{"name":"g7_yes"},"layer":[
{"mark":"bar","encoding":{"x":{"field":"l","type":"ordinal","axis":{"title":"Label words (single-token) = ","titleX":177,"titleAlign":"right","labelExpr":"datum.value%2==1?datum.label:''"}},"y":{"datum":1,"type":"quantitative","scale":{"domain":[0,1]},"axis":{"title":null,"values":[0,0.1,0.5,0.6,0.7,0.8,0.9,1],"format":"~g"}},"color":{"datum":"n","type":"nominal"}}},
{"transform":[{"fold":["f","o"]}],"mark":"bar","encoding":{"x":{"field":"l","type":"ordinal","axis":null},"y":{"field":"value","type":"quantitative","axis":{"title":null,"values":[0,0.1,0.5,0.6,0.7,0.8,0.9,1],"format":"~g"}},"color":{"field":"key","type":"nominal"},"order":{"field":"key"}}},
{"mark":{"type":"line","color":"#30a9f0","strokeWidth":2},"encoding":{"x":{"field":"l","type":"ordinal","axis":{"orient":"bottom","title":"\"yes\"/\"no\"","titleX":177,"titleAlign":"left","titleFontWeight":"bold","titleFontStyle":"italic","labels":false}},"y":{"field":"f","type":"quantitative","axis":{"title":null,"values":[0,0.1,0.5,0.6,0.7,0.8,0.9,1],"format":"~g"}}}},
{"transform":[{"filter":"datum.f>=0.7"}],"mark":{"type":"point","shape":"diamond","filled":true,"size":38,"color":"#30a9f0","opacity":1},"encoding":{"x":{"field":"l","type":"ordinal","axis":null},"y":{"field":"f","type":"quantitative","axis":{"title":null,"values":[0,0.1,0.5,0.6,0.7,0.8,0.9,1],"format":"~g"}}}}
],"resolve":{"axis":{"x":"independent"}}},
{"width":284,"height":106,"data":{"name":"mi_yes"},"layer":[
{"mark":"bar","encoding":{"x":{"field":"l","type":"ordinal","axis":{"title":"Label words (single-token) = ","titleX":177,"titleAlign":"right","labelExpr":"datum.value%2==1?datum.label:''"}},"y":{"datum":1,"type":"quantitative","scale":{"domain":[0,1]},"axis":{"title":null,"values":[0,0.1,0.5,0.6,0.7,0.8,0.9,1],"format":"~g"}},"color":{"datum":"n","type":"nominal"}}},
{"transform":[{"fold":["f","o"]}],"mark":"bar","encoding":{"x":{"field":"l","type":"ordinal","axis":null},"y":{"field":"value","type":"quantitative","axis":{"title":null,"values":[0,0.1,0.5,0.6,0.7,0.8,0.9,1],"format":"~g"}},"color":{"field":"key","type":"nominal"},"order":{"field":"key"}}},
{"mark":{"type":"line","color":"#30a9f0","strokeWidth":2},"encoding":{"x":{"field":"l","type":"ordinal","axis":{"orient":"bottom","title":"\"yes\"/\"no\"","titleX":177,"titleAlign":"left","titleFontWeight":"bold","titleFontStyle":"italic","labels":false}},"y":{"field":"f","type":"quantitative","axis":{"title":null,"values":[0,0.1,0.5,0.6,0.7,0.8,0.9,1],"format":"~g"}}}},
{"transform":[{"filter":"datum.f>=0.7"}],"mark":{"type":"point","shape":"diamond","filled":true,"size":36,"color":"#30a9f0","opacity":1},"encoding":{"x":{"field":"l","type":"ordinal","axis":null},"y":{"field":"f","type":"quantitative","axis":{"title":null,"values":[0,0.1,0.5,0.6,0.7,0.8,0.9,1],"format":"~g"}}}}
],"resolve":{"axis":{"x":"independent"}}},
{"width":284,"height":106,"data":{"name":"g2_yes"},"layer":[
{"mark":"bar","encoding":{"x":{"field":"l","type":"ordinal","scale":{"paddingInner":0.06},"axis":{"title":"Label words (single-token) = ","titleX":177,"titleAlign":"right","labelExpr":"datum.value%2==1?datum.label:''"}},"y":{"datum":1,"type":"quantitative","scale":{"domain":[0,1]},"axis":{"title":null,"values":[0,0.1,0.5,0.6,0.7,0.8,0.9,1],"format":"~g"}},"color":{"datum":"n","type":"nominal"}}},
{"transform":[{"fold":["f","o"]}],"mark":"bar","encoding":{"x":{"field":"l","type":"ordinal","axis":null},"y":{"field":"value","type":"quantitative","axis":{"title":null,"values":[0,0.1,0.5,0.6,0.7,0.8,0.9,1],"format":"~g"}},"color":{"field":"key","type":"nominal"},"order":{"field":"key"}}},
{"mark":{"type":"line","color":"#30a9f0","strokeWidth":2},"encoding":{"x":{"field":"l","type":"ordinal","axis":{"orient":"bottom","title":"\"yes\"/\"no\"","titleX":177,"titleAlign":"left","titleFontWeight":"bold","titleFontStyle":"italic","labels":false}},"y":{"field":"f","type":"quantitative","axis":{"title":null,"values":[0,0.1,0.5,0.6,0.7,0.8,0.9,1],"format":"~g"}}}},
{"transform":[{"filter":"datum.f>=0.7"}],"mark":{"type":"point","shape":"diamond","filled":true,"size":28,"color":"#30a9f0","opacity":1},"encoding":{"x":{"field":"l","type":"ordinal","axis":null},"y":{"field":"f","type":"quantitative","axis":{"title":null,"values":[0,0.1,0.5,0.6,0.7,0.8,0.9,1],"format":"~g"}}}}
],"resolve":{"axis":{"x":"independent"}}},
{"width":284,"height":106,"data":{"name":"ll_yes"},"layer":[
{"mark":"bar","encoding":{"x":{"field":"l","type":"ordinal","scale":{"paddingInner":0.22},"axis":{"title":"Label words (single-token) = ","titleX":177,"titleAlign":"right","labelExpr":"datum.value%2==1?datum.label:''"}},"y":{"datum":1,"type":"quantitative","scale":{"domain":[0,1]},"axis":{"title":null,"values":[0,0.1,0.5,0.6,0.7,0.8,0.9,1],"format":"~g"}},"color":{"datum":"n","type":"nominal"}}},
{"transform":[{"fold":["f","o"]}],"mark":"bar","encoding":{"x":{"field":"l","type":"ordinal","axis":null},"y":{"field":"value","type":"quantitative","axis":{"title":null,"values":[0,0.1,0.5,0.6,0.7,0.8,0.9,1],"format":"~g"}},"color":{"field":"key","type":"nominal"},"order":{"field":"key"}}},
{"mark":{"type":"line","color":"#30a9f0","strokeWidth":2},"encoding":{"x":{"field":"l","type":"ordinal","axis":{"orient":"bottom","title":"\"yes\"/\"no\"","titleX":177,"titleAlign":"left","titleFontWeight":"bold","titleFontStyle":"italic","labels":false}},"y":{"field":"f","type":"quantitative","axis":{"title":null,"values":[0,0.1,0.5,0.6,0.7,0.8,0.9,1],"format":"~g"}}}},
{"transform":[{"filter":"datum.f>=0.7"}],"mark":{"type":"point","shape":"diamond","filled":true,"size":14,"color":"#30a9f0","opacity":1},"encoding":{"x":{"field":"l","type":"ordinal","axis":null},"y":{"field":"f","type":"quantitative","axis":{"title":null,"values":[0,0.1,0.5,0.6,0.7,0.8,0.9,1],"format":"~g"}}}}
],"resolve":{"axis":{"x":"independent"}}}
]},
{"spacing":6,"hconcat":[
{"width":284,"height":106,"data":{"name":"g7_good"},"layer":[
{"mark":"bar","encoding":{"x":{"field":"l","type":"ordinal","axis":{"title":"Label words (single-token) = ","titleX":171,"titleAlign":"right","labelExpr":"datum.value%2==1?datum.label:''"}},"y":{"datum":1,"type":"quantitative","scale":{"domain":[0,1]},"axis":{"title":null,"values":[0,0.1,0.5,0.6,0.7,0.8,0.9,1],"format":"~g"}},"color":{"datum":"n","type":"nominal"}}},
{"transform":[{"fold":["f","o"]}],"mark":"bar","encoding":{"x":{"field":"l","type":"ordinal","axis":null},"y":{"field":"value","type":"quantitative","axis":{"title":null,"values":[0,0.1,0.5,0.6,0.7,0.8,0.9,1],"format":"~g"}},"color":{"field":"key","type":"nominal"},"order":{"field":"key"}}},
{"mark":{"type":"line","color":"#30a9f0","strokeWidth":2},"encoding":{"x":{"field":"l","type":"ordinal","axis":{"orient":"bottom","title":"\"good\"/\"bad\"","titleX":171,"titleAlign":"left","titleFontWeight":"bold","titleFontStyle":"italic","labels":false}},"y":{"field":"f","type":"quantitative","axis":{"title":null,"values":[0,0.1,0.5,0.6,0.7,0.8,0.9,1],"format":"~g"}}}},
{"transform":[{"filter":"datum.f>=0.7"}],"mark":{"type":"point","shape":"diamond","filled":true,"size":38,"color":"#30a9f0","opacity":1},"encoding":{"x":{"field":"l","type":"ordinal","axis":null},"y":{"field":"f","type":"quantitative","axis":{"title":null,"values":[0,0.1,0.5,0.6,0.7,0.8,0.9,1],"format":"~g"}}}}
],"resolve":{"axis":{"x":"independent"}}},
{"width":284,"height":106,"data":{"name":"mi_good"},"layer":[
{"mark":"bar","encoding":{"x":{"field":"l","type":"ordinal","axis":{"title":"Label words (single-token) = ","titleX":171,"titleAlign":"right","labelExpr":"datum.value%2==1?datum.label:''"}},"y":{"datum":1,"type":"quantitative","scale":{"domain":[0,1]},"axis":{"title":null,"values":[0,0.1,0.5,0.6,0.7,0.8,0.9,1],"format":"~g"}},"color":{"datum":"n","type":"nominal"}}},
{"transform":[{"fold":["f","o"]}],"mark":"bar","encoding":{"x":{"field":"l","type":"ordinal","axis":null},"y":{"field":"value","type":"quantitative","axis":{"title":null,"values":[0,0.1,0.5,0.6,0.7,0.8,0.9,1],"format":"~g"}},"color":{"field":"key","type":"nominal"},"order":{"field":"key"}}},
{"mark":{"type":"line","color":"#30a9f0","strokeWidth":2},"encoding":{"x":{"field":"l","type":"ordinal","axis":{"orient":"bottom","title":"\"good\"/\"bad\"","titleX":171,"titleAlign":"left","titleFontWeight":"bold","titleFontStyle":"italic","labels":false}},"y":{"field":"f","type":"quantitative","axis":{"title":null,"values":[0,0.1,0.5,0.6,0.7,0.8,0.9,1],"format":"~g"}}}},
{"transform":[{"filter":"datum.f>=0.7"}],"mark":{"type":"point","shape":"diamond","filled":true,"size":36,"color":"#30a9f0","opacity":1},"encoding":{"x":{"field":"l","type":"ordinal","axis":null},"y":{"field":"f","type":"quantitative","axis":{"title":null,"values":[0,0.1,0.5,0.6,0.7,0.8,0.9,1],"format":"~g"}}}}
],"resolve":{"axis":{"x":"independent"}}},
{"width":284,"height":106,"data":{"name":"g2_good"},"layer":[
{"mark":"bar","encoding":{"x":{"field":"l","type":"ordinal","scale":{"paddingInner":0.06},"axis":{"title":"Label words (single-token) = ","titleX":171,"titleAlign":"right","labelExpr":"datum.value%2==1?datum.label:''"}},"y":{"datum":1,"type":"quantitative","scale":{"domain":[0,1]},"axis":{"title":null,"values":[0,0.1,0.5,0.6,0.7,0.8,0.9,1],"format":"~g"}},"color":{"datum":"n","type":"nominal"}}},
{"transform":[{"fold":["f","o"]}],"mark":"bar","encoding":{"x":{"field":"l","type":"ordinal","axis":null},"y":{"field":"value","type":"quantitative","axis":{"title":null,"values":[0,0.1,0.5,0.6,0.7,0.8,0.9,1],"format":"~g"}},"color":{"field":"key","type":"nominal"},"order":{"field":"key"}}},
{"mark":{"type":"line","color":"#30a9f0","strokeWidth":2},"encoding":{"x":{"field":"l","type":"ordinal","axis":{"orient":"bottom","title":"\"good\"/\"bad\"","titleX":171,"titleAlign":"left","titleFontWeight":"bold","titleFontStyle":"italic","labels":false}},"y":{"field":"f","type":"quantitative","axis":{"title":null,"values":[0,0.1,0.5,0.6,0.7,0.8,0.9,1],"format":"~g"}}}},
{"transform":[{"filter":"datum.f>=0.7"}],"mark":{"type":"point","shape":"diamond","filled":true,"size":28,"color":"#30a9f0","opacity":1},"encoding":{"x":{"field":"l","type":"ordinal","axis":null},"y":{"field":"f","type":"quantitative","axis":{"title":null,"values":[0,0.1,0.5,0.6,0.7,0.8,0.9,1],"format":"~g"}}}}
],"resolve":{"axis":{"x":"independent"}}},
{"width":284,"height":106,"data":{"name":"ll_good"},"layer":[
{"mark":"bar","encoding":{"x":{"field":"l","type":"ordinal","scale":{"paddingInner":0.22},"axis":{"title":"Label words (single-token) = ","titleX":171,"titleAlign":"right","labelExpr":"datum.value%2==1?datum.label:''"}},"y":{"datum":1,"type":"quantitative","scale":{"domain":[0,1]},"axis":{"title":null,"values":[0,0.1,0.5,0.6,0.7,0.8,0.9,1],"format":"~g"}},"color":{"datum":"n","type":"nominal"}}},
{"transform":[{"fold":["f","o"]}],"mark":"bar","encoding":{"x":{"field":"l","type":"ordinal","axis":null},"y":{"field":"value","type":"quantitative","axis":{"title":null,"values":[0,0.1,0.5,0.6,0.7,0.8,0.9,1],"format":"~g"}},"color":{"field":"key","type":"nominal"},"order":{"field":"key"}}},
{"mark":{"type":"line","color":"#30a9f0","strokeWidth":2},"encoding":{"x":{"field":"l","type":"ordinal","axis":{"orient":"bottom","title":"\"good\"/\"bad\"","titleX":171,"titleAlign":"left","titleFontWeight":"bold","titleFontStyle":"italic","labels":false}},"y":{"field":"f","type":"quantitative","axis":{"title":null,"values":[0,0.1,0.5,0.6,0.7,0.8,0.9,1],"format":"~g"}}}},
{"transform":[{"filter":"datum.f>=0.7"}],"mark":{"type":"point","shape":"diamond","filled":true,"size":14,"color":"#30a9f0","opacity":1},"encoding":{"x":{"field":"l","type":"ordinal","axis":null},"y":{"field":"f","type":"quantitative","axis":{"title":null,"values":[0,0.1,0.5,0.6,0.7,0.8,0.9,1],"format":"~g"}}}}
],"resolve":{"axis":{"x":"independent"}}}
]},
{"spacing":6,"hconcat":[
{"width":284,"height":106,"data":{"name":"g7_cat"},"layer":[
{"mark":"bar","encoding":{"x":{"field":"l","type":"ordinal","axis":{"title":"Label words (single-token) = ","titleX":175,"titleAlign":"right","labelExpr":"datum.value%2==1?datum.label:''"}},"y":{"datum":1,"type":"quantitative","scale":{"domain":[0,1]},"axis":{"title":null,"values":[0,0.1,0.5,0.6,0.7,0.8,0.9,1],"format":"~g"}},"color":{"datum":"n","type":"nominal"}}},
{"transform":[{"fold":["f","o"]}],"mark":"bar","encoding":{"x":{"field":"l","type":"ordinal","axis":null},"y":{"field":"value","type":"quantitative","axis":{"title":null,"values":[0,0.1,0.5,0.6,0.7,0.8,0.9,1],"format":"~g"}},"color":{"field":"key","type":"nominal"},"order":{"field":"key"}}},
{"mark":{"type":"line","color":"#30a9f0","strokeWidth":2},"encoding":{"x":{"field":"l","type":"ordinal","axis":{"orient":"bottom","title":"\"cat\"/\"dog\"","titleX":175,"titleAlign":"left","titleFontWeight":"bold","titleFontStyle":"italic","labels":false}},"y":{"field":"f","type":"quantitative","axis":{"title":null,"values":[0,0.1,0.5,0.6,0.7,0.8,0.9,1],"format":"~g"}}}},
{"transform":[{"filter":"datum.f>=0.7"}],"mark":{"type":"point","shape":"diamond","filled":true,"size":38,"color":"#30a9f0","opacity":1},"encoding":{"x":{"field":"l","type":"ordinal","axis":null},"y":{"field":"f","type":"quantitative","axis":{"title":null,"values":[0,0.1,0.5,0.6,0.7,0.8,0.9,1],"format":"~g"}}}}
],"resolve":{"axis":{"x":"independent"}}},
{"width":284,"height":106,"data":{"name":"mi_cat"},"layer":[
{"mark":"bar","encoding":{"x":{"field":"l","type":"ordinal","axis":{"title":"Label words (single-token) = ","titleX":175,"titleAlign":"right","labelExpr":"datum.value%2==1?datum.label:''"}},"y":{"datum":1,"type":"quantitative","scale":{"domain":[0,1]},"axis":{"title":null,"values":[0,0.1,0.5,0.6,0.7,0.8,0.9,1],"format":"~g"}},"color":{"datum":"n","type":"nominal"}}},
{"transform":[{"fold":["f","o"]}],"mark":"bar","encoding":{"x":{"field":"l","type":"ordinal","axis":null},"y":{"field":"value","type":"quantitative","axis":{"title":null,"values":[0,0.1,0.5,0.6,0.7,0.8,0.9,1],"format":"~g"}},"color":{"field":"key","type":"nominal"},"order":{"field":"key"}}},
{"mark":{"type":"line","color":"#30a9f0","strokeWidth":2},"encoding":{"x":{"field":"l","type":"ordinal","axis":{"orient":"bottom","title":"\"cat\"/\"dog\"","titleX":175,"titleAlign":"left","titleFontWeight":"bold","titleFontStyle":"italic","labels":false}},"y":{"field":"f","type":"quantitative","axis":{"title":null,"values":[0,0.1,0.5,0.6,0.7,0.8,0.9,1],"format":"~g"}}}},
{"transform":[{"filter":"datum.f>=0.7"}],"mark":{"type":"point","shape":"diamond","filled":true,"size":36,"color":"#30a9f0","opacity":1},"encoding":{"x":{"field":"l","type":"ordinal","axis":null},"y":{"field":"f","type":"quantitative","axis":{"title":null,"values":[0,0.1,0.5,0.6,0.7,0.8,0.9,1],"format":"~g"}}}}
],"resolve":{"axis":{"x":"independent"}}},
{"width":284,"height":106,"data":{"name":"g2_cat"},"layer":[
{"mark":"bar","encoding":{"x":{"field":"l","type":"ordinal","scale":{"paddingInner":0.06},"axis":{"title":"Label words (single-token) = ","titleX":175,"titleAlign":"right","labelExpr":"datum.value%2==1?datum.label:''"}},"y":{"datum":1,"type":"quantitative","scale":{"domain":[0,1]},"axis":{"title":null,"values":[0,0.1,0.5,0.6,0.7,0.8,0.9,1],"format":"~g"}},"color":{"datum":"n","type":"nominal"}}},
{"transform":[{"fold":["f","o"]}],"mark":"bar","encoding":{"x":{"field":"l","type":"ordinal","axis":null},"y":{"field":"value","type":"quantitative","axis":{"title":null,"values":[0,0.1,0.5,0.6,0.7,0.8,0.9,1],"format":"~g"}},"color":{"field":"key","type":"nominal"},"order":{"field":"key"}}},
{"mark":{"type":"line","color":"#30a9f0","strokeWidth":2},"encoding":{"x":{"field":"l","type":"ordinal","axis":{"orient":"bottom","title":"\"cat\"/\"dog\"","titleX":175,"titleAlign":"left","titleFontWeight":"bold","titleFontStyle":"italic","labels":false}},"y":{"field":"f","type":"quantitative","axis":{"title":null,"values":[0,0.1,0.5,0.6,0.7,0.8,0.9,1],"format":"~g"}}}},
{"transform":[{"filter":"datum.f>=0.7"}],"mark":{"type":"point","shape":"diamond","filled":true,"size":28,"color":"#30a9f0","opacity":1},"encoding":{"x":{"field":"l","type":"ordinal","axis":null},"y":{"field":"f","type":"quantitative","axis":{"title":null,"values":[0,0.1,0.5,0.6,0.7,0.8,0.9,1],"format":"~g"}}}}
],"resolve":{"axis":{"x":"independent"}}},
{"width":284,"height":106,"data":{"name":"ll_cat"},"layer":[
{"mark":"bar","encoding":{"x":{"field":"l","type":"ordinal","scale":{"paddingInner":0.22},"axis":{"title":"Label words (single-token) = ","titleX":175,"titleAlign":"right","labelExpr":"datum.value%2==1?datum.label:''"}},"y":{"datum":1,"type":"quantitative","scale":{"domain":[0,1]},"axis":{"title":null,"values":[0,0.1,0.5,0.6,0.7,0.8,0.9,1],"format":"~g"}},"color":{"datum":"n","type":"nominal"}}},
{"transform":[{"fold":["f","o"]}],"mark":"bar","encoding":{"x":{"field":"l","type":"ordinal","axis":null},"y":{"field":"value","type":"quantitative","axis":{"title":null,"values":[0,0.1,0.5,0.6,0.7,0.8,0.9,1],"format":"~g"}},"color":{"field":"key","type":"nominal"},"order":{"field":"key"}}},
{"mark":{"type":"line","color":"#30a9f0","strokeWidth":2},"encoding":{"x":{"field":"l","type":"ordinal","axis":{"orient":"bottom","title":"\"cat\"/\"dog\"","titleX":175,"titleAlign":"left","titleFontWeight":"bold","titleFontStyle":"italic","labels":false}},"y":{"field":"f","type":"quantitative","axis":{"title":null,"values":[0,0.1,0.5,0.6,0.7,0.8,0.9,1],"format":"~g"}}}},
{"transform":[{"filter":"datum.f>=0.7"}],"mark":{"type":"point","shape":"diamond","filled":true,"size":14,"color":"#30a9f0","opacity":1},"encoding":{"x":{"field":"l","type":"ordinal","axis":null},"y":{"field":"f","type":"quantitative","axis":{"title":null,"values":[0,0.1,0.5,0.6,0.7,0.8,0.9,1],"format":"~g"}}}}
],"resolve":{"axis":{"x":"independent"}}}
]},
{"spacing":6,"hconcat":[
{"width":284,"height":106,"data":{"name":"g7_foo"},"layer":[
{"mark":"bar","encoding":{"x":{"field":"l","type":"ordinal","axis":{"title":"Label words (single-token) = ","titleX":175,"titleAlign":"right","labelExpr":"datum.value%2==1?datum.label:''"}},"y":{"datum":1,"type":"quantitative","scale":{"domain":[0,1]},"axis":{"title":null,"values":[0,0.1,0.5,0.6,0.7,0.8,0.9,1],"format":"~g"}},"color":{"datum":"n","type":"nominal"}}},
{"transform":[{"fold":["f","o"]}],"mark":"bar","encoding":{"x":{"field":"l","type":"ordinal","axis":null},"y":{"field":"value","type":"quantitative","axis":{"title":null,"values":[0,0.1,0.5,0.6,0.7,0.8,0.9,1],"format":"~g"}},"color":{"field":"key","type":"nominal"},"order":{"field":"key"}}},
{"mark":{"type":"line","color":"#30a9f0","strokeWidth":2},"encoding":{"x":{"field":"l","type":"ordinal","axis":{"orient":"bottom","title":"\"foo\"/\"bar\"","titleX":175,"titleAlign":"left","titleFontWeight":"bold","titleFontStyle":"italic","labels":false}},"y":{"field":"f","type":"quantitative","axis":{"title":null,"values":[0,0.1,0.5,0.6,0.7,0.8,0.9,1],"format":"~g"}}}},
{"transform":[{"filter":"datum.f>=0.7"}],"mark":{"type":"point","shape":"diamond","filled":true,"size":38,"color":"#30a9f0","opacity":1},"encoding":{"x":{"field":"l","type":"ordinal","axis":null},"y":{"field":"f","type":"quantitative","axis":{"title":null,"values":[0,0.1,0.5,0.6,0.7,0.8,0.9,1],"format":"~g"}}}}
],"resolve":{"axis":{"x":"independent"}}},
{"width":284,"height":106,"data":{"name":"mi_foo"},"layer":[
{"mark":"bar","encoding":{"x":{"field":"l","type":"ordinal","axis":{"title":"Label words (single-token) = ","titleX":175,"titleAlign":"right","labelExpr":"datum.value%2==1?datum.label:''"}},"y":{"datum":1,"type":"quantitative","scale":{"domain":[0,1]},"axis":{"title":null,"values":[0,0.1,0.5,0.6,0.7,0.8,0.9,1],"format":"~g"}},"color":{"datum":"n","type":"nominal"}}},
{"transform":[{"fold":["f","o"]}],"mark":"bar","encoding":{"x":{"field":"l","type":"ordinal","axis":null},"y":{"field":"value","type":"quantitative","axis":{"title":null,"values":[0,0.1,0.5,0.6,0.7,0.8,0.9,1],"format":"~g"}},"color":{"field":"key","type":"nominal"},"order":{"field":"key"}}},
{"mark":{"type":"line","color":"#30a9f0","strokeWidth":2},"encoding":{"x":{"field":"l","type":"ordinal","axis":{"orient":"bottom","title":"\"foo\"/\"bar\"","titleX":175,"titleAlign":"left","titleFontWeight":"bold","titleFontStyle":"italic","labels":false}},"y":{"field":"f","type":"quantitative","axis":{"title":null,"values":[0,0.1,0.5,0.6,0.7,0.8,0.9,1],"format":"~g"}}}},
{"transform":[{"filter":"datum.f>=0.7"}],"mark":{"type":"point","shape":"diamond","filled":true,"size":36,"color":"#30a9f0","opacity":1},"encoding":{"x":{"field":"l","type":"ordinal","axis":null},"y":{"field":"f","type":"quantitative","axis":{"title":null,"values":[0,0.1,0.5,0.6,0.7,0.8,0.9,1],"format":"~g"}}}}
],"resolve":{"axis":{"x":"independent"}}},
{"width":284,"height":106,"data":{"name":"g2_foo"},"layer":[
{"mark":"bar","encoding":{"x":{"field":"l","type":"ordinal","scale":{"paddingInner":0.06},"axis":{"title":"Label words (single-token) = ","titleX":175,"titleAlign":"right","labelExpr":"datum.value%2==1?datum.label:''"}},"y":{"datum":1,"type":"quantitative","scale":{"domain":[0,1]},"axis":{"title":null,"values":[0,0.1,0.5,0.6,0.7,0.8,0.9,1],"format":"~g"}},"color":{"datum":"n","type":"nominal"}}},
{"transform":[{"fold":["f","o"]}],"mark":"bar","encoding":{"x":{"field":"l","type":"ordinal","axis":null},"y":{"field":"value","type":"quantitative","axis":{"title":null,"values":[0,0.1,0.5,0.6,0.7,0.8,0.9,1],"format":"~g"}},"color":{"field":"key","type":"nominal"},"order":{"field":"key"}}},
{"mark":{"type":"line","color":"#30a9f0","strokeWidth":2},"encoding":{"x":{"field":"l","type":"ordinal","axis":{"orient":"bottom","title":"\"foo\"/\"bar\"","titleX":175,"titleAlign":"left","titleFontWeight":"bold","titleFontStyle":"italic","labels":false}},"y":{"field":"f","type":"quantitative","axis":{"title":null,"values":[0,0.1,0.5,0.6,0.7,0.8,0.9,1],"format":"~g"}}}},
{"transform":[{"filter":"datum.f>=0.7"}],"mark":{"type":"point","shape":"diamond","filled":true,"size":28,"color":"#30a9f0","opacity":1},"encoding":{"x":{"field":"l","type":"ordinal","axis":null},"y":{"field":"f","type":"quantitative","axis":{"title":null,"values":[0,0.1,0.5,0.6,0.7,0.8,0.9,1],"format":"~g"}}}},
{"data":{"values":[{"s":"par"}]},"mark":{"type":"rule","color":"#9b7fc0","strokeWidth":2},"encoding":{"x":{"datum":28,"type":"ordinal","bandPosition":1,"axis":null},"x2":{"datum":33},"y":{"datum":1.01,"type":"quantitative","axis":{"title":null,"values":[0,0.1,0.5,0.6,0.7,0.8,0.9,1],"format":"~g"}}}},
{"data":{"values":[{"s":"par"}]},"mark":{"type":"square","color":"#9b7fc0","size":121,"opacity":1,"filled":true},"encoding":{"x":{"datum":2,"type":"ordinal","axis":null},"y":{"datum":1.075,"type":"quantitative","axis":{"title":null,"values":[0,0.1,0.5,0.6,0.7,0.8,0.9,1],"format":"~g"}}}},
{"data":{"values":[{"s":"par"}]},"mark":{"type":"text","align":"left","baseline":"middle","fontSize":15,"color":"#5b6a88","font":"Open Sans"},"encoding":{"x":{"datum":5,"type":"ordinal","axis":null},"y":{"datum":1.075,"type":"quantitative","axis":{"title":null,"values":[0,0.1,0.5,0.6,0.7,0.8,0.9,1],"format":"~g"}},"text":{"field":"s"}}}
],"resolve":{"axis":{"x":"independent"}}},
{"width":284,"height":106,"data":{"name":"ll_foo"},"layer":[
{"mark":"bar","encoding":{"x":{"field":"l","type":"ordinal","scale":{"paddingInner":0.22},"axis":{"title":"Label words (single-token) = ","titleX":175,"titleAlign":"right","labelExpr":"datum.value%2==1?datum.label:''"}},"y":{"datum":1,"type":"quantitative","scale":{"domain":[0,1]},"axis":{"title":null,"values":[0,0.1,0.5,0.6,0.7,0.8,0.9,1],"format":"~g"}},"color":{"datum":"n","type":"nominal"}}},
{"transform":[{"fold":["f","o"]}],"mark":"bar","encoding":{"x":{"field":"l","type":"ordinal","axis":null},"y":{"field":"value","type":"quantitative","axis":{"title":null,"values":[0,0.1,0.5,0.6,0.7,0.8,0.9,1],"format":"~g"}},"color":{"field":"key","type":"nominal"},"order":{"field":"key"}}},
{"mark":{"type":"line","color":"#30a9f0","strokeWidth":2},"encoding":{"x":{"field":"l","type":"ordinal","axis":{"orient":"bottom","title":"\"foo\"/\"bar\"","titleX":175,"titleAlign":"left","titleFontWeight":"bold","titleFontStyle":"italic","labels":false}},"y":{"field":"f","type":"quantitative","axis":{"title":null,"values":[0,0.1,0.5,0.6,0.7,0.8,0.9,1],"format":"~g"}}}},
{"transform":[{"filter":"datum.f>=0.7"}],"mark":{"type":"point","shape":"diamond","filled":true,"size":14,"color":"#30a9f0","opacity":1},"encoding":{"x":{"field":"l","type":"ordinal","axis":null},"y":{"field":"f","type":"quantitative","axis":{"title":null,"values":[0,0.1,0.5,0.6,0.7,0.8,0.9,1],"format":"~g"}}}}
],"resolve":{"axis":{"x":"independent"}}}
]},
{"spacing":6,"hconcat":[
{"width":284,"height":106,"data":{"name":"g7_black"},"layer":[
{"mark":"bar","encoding":{"x":{"field":"l","type":"ordinal","axis":{"title":"Label words (single-token) = ","titleX":166,"titleAlign":"right","labelExpr":"datum.value%2==1?datum.label:''"}},"y":{"datum":1,"type":"quantitative","scale":{"domain":[0,1]},"axis":{"title":null,"values":[0,0.1,0.5,0.6,0.7,0.8,0.9,1],"format":"~g"}},"color":{"datum":"n","type":"nominal"}}},
{"transform":[{"fold":["f","o"]}],"mark":"bar","encoding":{"x":{"field":"l","type":"ordinal","axis":null},"y":{"field":"value","type":"quantitative","axis":{"title":null,"values":[0,0.1,0.5,0.6,0.7,0.8,0.9,1],"format":"~g"}},"color":{"field":"key","type":"nominal"},"order":{"field":"key"}}},
{"mark":{"type":"line","color":"#30a9f0","strokeWidth":2},"encoding":{"x":{"field":"l","type":"ordinal","axis":{"orient":"bottom","title":"\"black\"/\"white\"","titleX":166,"titleAlign":"left","titleFontWeight":"bold","titleFontStyle":"italic","labels":false}},"y":{"field":"f","type":"quantitative","axis":{"title":null,"values":[0,0.1,0.5,0.6,0.7,0.8,0.9,1],"format":"~g"}}}},
{"transform":[{"filter":"datum.f>=0.7"}],"mark":{"type":"point","shape":"diamond","filled":true,"size":38,"color":"#30a9f0","opacity":1},"encoding":{"x":{"field":"l","type":"ordinal","axis":null},"y":{"field":"f","type":"quantitative","axis":{"title":null,"values":[0,0.1,0.5,0.6,0.7,0.8,0.9,1],"format":"~g"}}}}
],"resolve":{"axis":{"x":"independent"}}},
{"width":284,"height":106,"data":{"name":"mi_black"},"layer":[
{"mark":"bar","encoding":{"x":{"field":"l","type":"ordinal","axis":{"title":"Label words (single-token) = ","titleX":166,"titleAlign":"right","labelExpr":"datum.value%2==1?datum.label:''"}},"y":{"datum":1,"type":"quantitative","scale":{"domain":[0,1]},"axis":{"title":null,"values":[0,0.1,0.5,0.6,0.7,0.8,0.9,1],"format":"~g"}},"color":{"datum":"n","type":"nominal"}}},
{"transform":[{"fold":["f","o"]}],"mark":"bar","encoding":{"x":{"field":"l","type":"ordinal","axis":null},"y":{"field":"value","type":"quantitative","axis":{"title":null,"values":[0,0.1,0.5,0.6,0.7,0.8,0.9,1],"format":"~g"}},"color":{"field":"key","type":"nominal"},"order":{"field":"key"}}},
{"mark":{"type":"line","color":"#30a9f0","strokeWidth":2},"encoding":{"x":{"field":"l","type":"ordinal","axis":{"orient":"bottom","title":"\"black\"/\"white\"","titleX":166,"titleAlign":"left","titleFontWeight":"bold","titleFontStyle":"italic","labels":false}},"y":{"field":"f","type":"quantitative","axis":{"title":null,"values":[0,0.1,0.5,0.6,0.7,0.8,0.9,1],"format":"~g"}}}},
{"transform":[{"filter":"datum.f>=0.7"}],"mark":{"type":"point","shape":"diamond","filled":true,"size":36,"color":"#30a9f0","opacity":1},"encoding":{"x":{"field":"l","type":"ordinal","axis":null},"y":{"field":"f","type":"quantitative","axis":{"title":null,"values":[0,0.1,0.5,0.6,0.7,0.8,0.9,1],"format":"~g"}}}}
],"resolve":{"axis":{"x":"independent"}}},
{"width":284,"height":106,"data":{"name":"g2_black"},"layer":[
{"mark":"bar","encoding":{"x":{"field":"l","type":"ordinal","scale":{"paddingInner":0.06},"axis":{"title":"Label words (single-token) = ","titleX":166,"titleAlign":"right","labelExpr":"datum.value%2==1?datum.label:''"}},"y":{"datum":1,"type":"quantitative","scale":{"domain":[0,1]},"axis":{"title":null,"values":[0,0.1,0.5,0.6,0.7,0.8,0.9,1],"format":"~g"}},"color":{"datum":"n","type":"nominal"}}},
{"transform":[{"fold":["f","o"]}],"mark":"bar","encoding":{"x":{"field":"l","type":"ordinal","axis":null},"y":{"field":"value","type":"quantitative","axis":{"title":null,"values":[0,0.1,0.5,0.6,0.7,0.8,0.9,1],"format":"~g"}},"color":{"field":"key","type":"nominal"},"order":{"field":"key"}}},
{"mark":{"type":"line","color":"#30a9f0","strokeWidth":2},"encoding":{"x":{"field":"l","type":"ordinal","axis":{"orient":"bottom","title":"\"black\"/\"white\"","titleX":166,"titleAlign":"left","titleFontWeight":"bold","titleFontStyle":"italic","labels":false}},"y":{"field":"f","type":"quantitative","axis":{"title":null,"values":[0,0.1,0.5,0.6,0.7,0.8,0.9,1],"format":"~g"}}}},
{"transform":[{"filter":"datum.f>=0.7"}],"mark":{"type":"point","shape":"diamond","filled":true,"size":28,"color":"#30a9f0","opacity":1},"encoding":{"x":{"field":"l","type":"ordinal","axis":null},"y":{"field":"f","type":"quantitative","axis":{"title":null,"values":[0,0.1,0.5,0.6,0.7,0.8,0.9,1],"format":"~g"}}}}
],"resolve":{"axis":{"x":"independent"}}},
{"width":284,"height":106,"data":{"name":"ll_black"},"layer":[
{"mark":"bar","encoding":{"x":{"field":"l","type":"ordinal","scale":{"paddingInner":0.22},"axis":{"title":"Label words (single-token) = ","titleX":166,"titleAlign":"right","labelExpr":"datum.value%2==1?datum.label:''"}},"y":{"datum":1,"type":"quantitative","scale":{"domain":[0,1]},"axis":{"title":null,"values":[0,0.1,0.5,0.6,0.7,0.8,0.9,1],"format":"~g"}},"color":{"datum":"n","type":"nominal"}}},
{"transform":[{"fold":["f","o"]}],"mark":"bar","encoding":{"x":{"field":"l","type":"ordinal","axis":null},"y":{"field":"value","type":"quantitative","axis":{"title":null,"values":[0,0.1,0.5,0.6,0.7,0.8,0.9,1],"format":"~g"}},"color":{"field":"key","type":"nominal"},"order":{"field":"key"}}},
{"mark":{"type":"line","color":"#30a9f0","strokeWidth":2},"encoding":{"x":{"field":"l","type":"ordinal","axis":{"orient":"bottom","title":"\"black\"/\"white\"","titleX":166,"titleAlign":"left","titleFontWeight":"bold","titleFontStyle":"italic","labels":false}},"y":{"field":"f","type":"quantitative","axis":{"title":null,"values":[0,0.1,0.5,0.6,0.7,0.8,0.9,1],"format":"~g"}}}},
{"transform":[{"filter":"datum.f>=0.7"}],"mark":{"type":"point","shape":"diamond","filled":true,"size":14,"color":"#30a9f0","opacity":1},"encoding":{"x":{"field":"l","type":"ordinal","axis":null},"y":{"field":"f","type":"quantitative","axis":{"title":null,"values":[0,0.1,0.5,0.6,0.7,0.8,0.9,1],"format":"~g"}}}}
],"resolve":{"axis":{"x":"independent"}}}
]}
]
}
